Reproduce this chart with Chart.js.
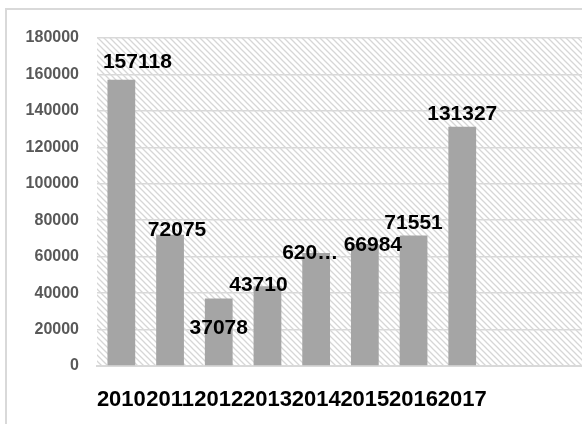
<!DOCTYPE html>
<html>
<head>
<meta charset="utf-8">
<script src="https://cdn.jsdelivr.net/npm/chart.js@4.4.1/dist/chart.umd.min.js"></script>
<style>
  html, body { margin: 0; padding: 0; background: #fff; overflow: hidden; }
  #wrap { position: relative; width: 582px; height: 424px; overflow: hidden; }
  #moldura { position: absolute; left: 5px; top: 8px; width: 640px; height: 460px; border: 2px solid #d9d9d9; box-sizing: border-box; }
  #grafico { position: absolute; left: 0; top: 0; }
</style>
</head>
<body>
<div id="wrap">
  <div id="moldura"></div>
  <canvas id="grafico" width="600" height="424"></canvas>
</div>
<script>
// dados
const anos = ['2010', '2011', '2012', '2013', '2014', '2015', '2016', '2017', '', ''];
const valores = [157118, 72075, 37078, 43710, 62000, 66984, 71551, 131327, null, null];
const rotulos = ['157118', '72075', '37078', '43710', '620…', '66984', '71551', '131327', '', ''];
const ticksY = [0, 20000, 40000, 60000, 80000, 100000, 120000, 140000, 160000, 180000];

// deslocamento de cada rotulo em relacao ao topo da barra (o Excel empurrou alguns)
const deslocRotulos = [[16, -17], [7, -4], [0, 30], [-9, -1], [-6, 0], [8, 1], [0, -12], [0, -12]];

const FONTE = "'Liberation Sans', Arial, sans-serif";

// fundo hachurado da area de plotagem
const fundoHachurado = {
    id: 'fundoHachurado',
    beforeDraw(chart) {
        const { ctx, chartArea: a } = chart;
        const tile = document.createElement('canvas');
        tile.width = 6; tile.height = 6;
        const t = tile.getContext('2d');
        t.fillStyle = '#ffffff';
        t.fillRect(0, 0, 6, 6);
        t.strokeStyle = '#d6d6d6';
        t.lineWidth = 1.3;
        t.beginPath();
        t.moveTo(-1, -1); t.lineTo(7, 7);
        t.moveTo(-4, 2); t.lineTo(1, 7);
        t.moveTo(5, -1); t.lineTo(8, 2);
        t.stroke();
        ctx.save();
        ctx.fillStyle = ctx.createPattern(tile, 'repeat');
        ctx.fillRect(a.left, a.top, a.right - a.left, a.bottom - a.top);
        ctx.restore();
    }
};

// rotulos de dados em negrito
const rotulosDados = {
    id: 'rotulosDados',
    afterDatasetsDraw(chart) {
        const { ctx } = chart;
        const meta = chart.getDatasetMeta(0);
        ctx.save();
        ctx.font = 'bold 21px ' + FONTE;
        ctx.fillStyle = '#000000';
        ctx.textAlign = 'center';
        ctx.textBaseline = 'middle';
        meta.data.forEach((barra, i) => {
            if (valores[i] == null) return;
            const d = deslocRotulos[i] || [0, -12];
            ctx.fillText(rotulos[i], barra.x + d[0], barra.y + d[1]);
        });
        ctx.restore();
    }
};

new Chart(document.getElementById('grafico'), {
    type: 'bar',
    data: {
        labels: anos,
        datasets: [{
            data: valores,
            backgroundColor: '#a5a5a5',
            barPercentage: 0.57,
            categoryPercentage: 1
        }]
    },
    options: {
        responsive: false,
        animation: false,
        layout: { padding: { left: 0, top: 38, right: 16, bottom: 0 } },
        plugins: { legend: { display: false }, tooltip: { enabled: false } },
        scales: {
            x: {
                grid: { display: false, drawTicks: false },
                border: { color: '#d9d9d9', width: 2 },
                ticks: {
                    autoSkip: false,
                    maxRotation: 0,
                    padding: 21,
                    color: '#000000',
                    font: { family: FONTE, size: 22, weight: 'bold' }
                },
                afterFit(scale) { scale.height = 58; }
            },
            y: {
                min: 0,
                max: 180000,
                grid: { color: '#d9d9d9', lineWidth: 1.5, drawTicks: false },
                border: { display: false },
                afterBuildTicks(scale) { scale.ticks = ticksY.map(v => ({ value: v })); },
                ticks: {
                    padding: 18,
                    color: '#595959',
                    font: { family: FONTE, size: 16, weight: 'bold' },
                    callback: v => String(v)
                },
                afterFit(scale) { scale.width = 97; }
            }
        }
    },
    plugins: [fundoHachurado, rotulosDados]
});
</script>
</body>
</html>
